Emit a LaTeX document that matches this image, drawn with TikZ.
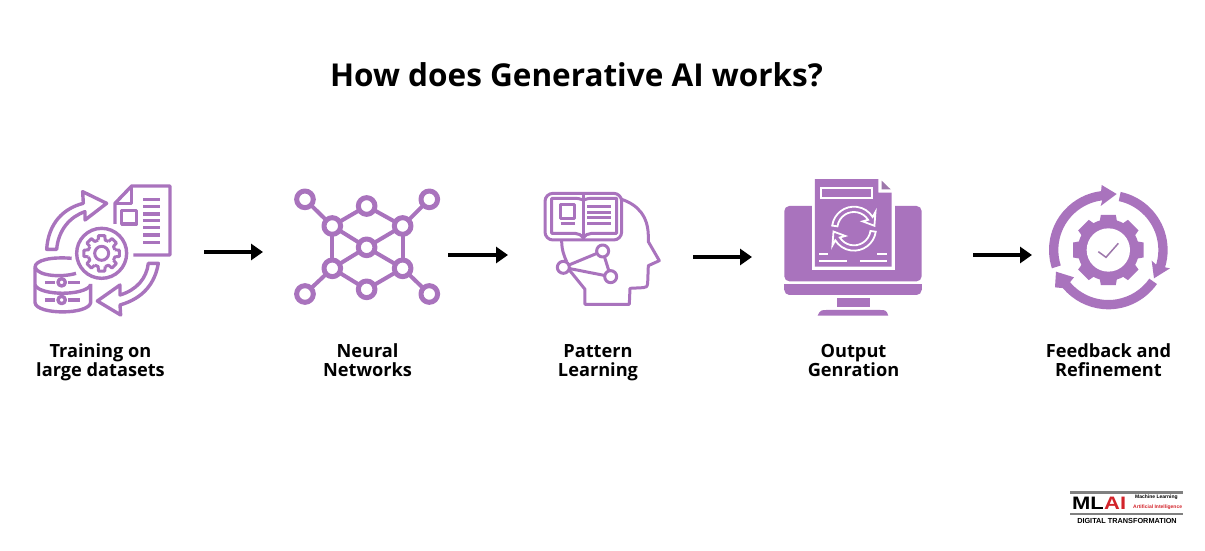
\documentclass[tikz,border=0pt]{standalone}
\usepackage{fontspec}
\setmainfont{Open Sans}
\newfontfamily\logofont{Liberation Sans}
\usetikzlibrary{arrows.meta}
\definecolor{iconpurple}{HTML}{A973BD}
\definecolor{logored}{HTML}{D2232A}
\tikzset{
  iconline/.style={draw=iconpurple,line width=#1,line join=round},
  iconline/.default=3.4pt,
  flowarrow/.style={line width=3.5pt,-{Triangle[length=12pt,width=16pt]}},
  steplabel/.style={align=center,anchor=north,inner sep=0pt,font=\fontsize{18.2}{19}\selectfont\bfseries},
  zoomed/.style={x=0.3333pt,y=-0.3333pt},
  logotext/.style={inner sep=0pt,font=\logofont\fontsize{#1}{#1}\selectfont\bfseries},
}
\begin{document}
\begin{tikzpicture}[x=1pt,y=-1pt]
\useasboundingbox (0,0) rectangle (1205,551);

\node[font=\fontsize{31.5}{36}\selectfont\bfseries] (title) at (576.5,75) {How does Generative AI works?};

% training on datasets
\begin{scope}[xshift=20pt,yshift=-170pt,zoomed]
\draw[iconline] (285,162) -- (285,100) -- (335,48) -- (450,48) -- (450,255) -- (340,255);
\draw[iconline] (335,48) -- (335,100) -- (285,100);
\draw[iconline] (305,122) rectangle (350,162);
\foreach \y in {88,110,132,152,172,195,217}
  \draw[iconline] (370,\y) -- (420,\y);
\draw[iconline] (245,250) circle[radius=75];
\begin{scope}[shift={(245,250)}]
\foreach \a in {0,45,...,315}
  \draw[iconline=3pt] (\a-15:41) -- (\a-10:54) -- (\a+10:54) -- (\a+15:41) arc[start angle=\a+15,end angle=\a+30,radius=41];
\draw[iconline=3pt] (0,0) circle[radius=21];
\end{scope}
\draw[iconline] (155,265) .. controls (95,260) and (45,270) .. (45,292) -- (45,398) .. controls (50,435) and (205,435) .. (212,398) -- (212,342);
\draw[iconline] (45,292) .. controls (55,320) and (130,322) .. (168,310);
\draw[iconline] (45,345) .. controls (60,378) and (195,378) .. (212,345);
\foreach \y in {337,390} {
  \draw[iconline] (125,\y) circle[radius=11];
  \draw[iconline] (75,\y) -- (105,\y);
  \draw[iconline] (145,\y) -- (180,\y);
}
\draw[iconline] (80,238) .. controls (85,160) and (130,115) .. (190,100) -- (188,65) -- (260,100) -- (195,150) -- (195,125) .. controls (150,140) and (115,180) .. (110,238) -- cycle;
\draw[iconline] (415,280) .. controls (405,340) and (370,385) .. (300,405) -- (302,435) -- (232,393) -- (300,345) -- (300,375) .. controls (350,360) and (380,325) .. (385,280) -- cycle;
\end{scope}

% neural networks
\begin{scope}[xshift=20pt,yshift=-170pt,zoomed]
\foreach \n/\x/\y in {a/855/88,b/1040/108,c/1228/88,d/937/168,e/1148/168,f/1040/232,g/937/295,h/1148/295,i/1040/358,j/855/372,k/1228/372}
  \coordinate (net\n) at (\x,\y);
\foreach \s/\t in {a/d,b/d,b/e,c/e,d/g,e/h,d/f,e/f,f/g,f/h,g/i,h/i,g/j,h/k}
  \draw[iconline=4pt] (net\s) -- (net\t);
\foreach \n in {a,b,c,d,e,f,g,h,i,j,k}
  \draw[iconline=5pt,fill=white] (net\n) circle[radius=25];
\end{scope}

% pattern learning
\begin{scope}[xshift=520pt,yshift=-170pt,zoomed]
\draw[iconline=3pt] (305,88) .. controls (355,105) and (385,140) .. (385,200) -- (385,215) -- (418,272) -- (385,287) -- (383,340) .. controls (382,350) and (378,353) .. (370,353) -- (330,355) -- (328,403) -- (195,403) -- (195,358) -- (148,300);
\draw[iconline=3pt] (125,212) .. controls (125,240) and (133,260) .. (140,275);
\draw[iconline=3pt,rounded corners=8pt,fill=white] (75,70) rectangle (305,210);
\draw[iconline=3pt] (190,90) .. controls (180,85) and (170,85) .. (160,85) -- (95,85) -- (95,190) -- (165,190) .. controls (175,190) and (185,195) .. (190,205) .. controls (195,195) and (205,190) .. (215,190) -- (290,190) -- (290,85) -- (220,85) .. controls (210,85) and (200,85) .. (190,90) -- cycle;
\draw[iconline=3pt] (190,70) -- (190,205);
\draw[iconline=3pt] (122,105) rectangle (162,145);
\draw[iconline=3pt] (122,162) -- (165,162);
\foreach \y in {110,128,143,160}
  \draw[iconline=3pt] (202,\y) -- (272,\y);
\coordinate (brainA) at (130,292);
\coordinate (brainB) at (248,243);
\coordinate (brainC) at (272,320);
\draw[iconline=3pt] (brainA) -- (brainB) -- (brainC) -- cycle;
\foreach \n in {A,B,C}
  \draw[iconline=3pt,fill=white] (brain\n) circle[radius=18];
\end{scope}

% output generation
\begin{scope}[xshift=520pt,yshift=-170pt,zoomed]
\fill[iconpurple,rounded corners=5pt] (793,108) rectangle (1205,334);
\fill[iconpurple,rounded corners=5pt] (793,343) rectangle (1205,375);
\fill[iconpurple] (793,343) rectangle (1205,360);
\fill[iconpurple] (950,385) rectangle (1050,410);
\fill[iconpurple] (893,437) .. controls (900,420) and (905,420) .. (920,420) -- (1080,420) .. controls (1095,420) and (1100,420) .. (1105,437) -- cycle;
\fill[white] (875,25) rectangle (1125,300);
\fill[iconpurple] (885,27) -- (1075,27) -- (1075,68) -- (1115,68) -- (1115,290) -- (885,290) -- cycle;
\fill[iconpurple!70!gray] (1085,32) -- (1112,58) -- (1085,58) -- cycle;
\draw[white,line width=2.2pt] (903,54) rectangle (1056,85);
\foreach \x/\y/\u in {898/252/925,898/272/980,1020/272/1100,1072/252/1100}
  \draw[white,line width=2pt] (\x,\y) -- (\u,\y);
\begin{scope}[shift={(1002,176)},x=0.3333pt,y=0.3333pt]
\foreach \r in {0,180}
  \draw[white,line width=1.8pt,fill=iconpurple,rotate=\r] (172:66) arc[start angle=172,end angle=32,radius=66] -- (38:82) -- (8:62) -- (40:34) -- (32:50) arc[start angle=32,end angle=172,radius=50] -- cycle;
\end{scope}
\end{scope}

% feedback and refinement
\begin{scope}[xshift=1030pt,yshift=-170pt,zoomed]
\begin{scope}[shift={(235,240)}]
\fill[iconpurple] (0,0) circle[radius=92];
\foreach \a in {0,45,...,315}
  \fill[iconpurple] (\a-17:89) -- (\a-12:108) -- (\a+12:108) -- (\a+17:89) -- cycle;
\fill[white] (0,0) circle[radius=65];
\end{scope}
\draw[draw=iconpurple!70!gray,line width=1.5pt] (205,245) -- (228,262) -- (265,220);
\begin{scope}[shift={(235,240)},x=0.3333pt,y=0.3333pt]
\fill[iconpurple] (198:178) arc[start angle=198,end angle=97,radius=178] -- (-20,195) -- (25,168) -- (-23,132) -- (97:150) arc[start angle=97,end angle=198,radius=150] -- cycle;
\fill[iconpurple] (78:178) arc[start angle=78,end angle=-17,radius=178] -- (185,-55) -- (137,-85) -- (130,-32) -- (-17:150) arc[start angle=-17,end angle=78,radius=150] -- cycle;
\fill[iconpurple] (-35:178) arc[start angle=-35,end angle=-140,radius=178] -- (-160,-112) -- (-157,-65) -- (-103,-82) -- (-140:150) arc[start angle=-140,end angle=-35,radius=150] -- cycle;
\end{scope}
\end{scope}

% flow
\coordinate (flowAstart) at (204,252);
\coordinate (flowAend) at (263,252);
\coordinate (flowBstart) at (448,255);
\coordinate (flowBend) at (508,255);
\coordinate (flowCstart) at (693,257);
\coordinate (flowCend) at (752,257);
\coordinate (flowDstart) at (973,255);
\coordinate (flowDend) at (1032,255);
\draw[flowarrow] (flowAstart) -- (flowAend);
\draw[flowarrow] (flowBstart) -- (flowBend);
\draw[flowarrow] (flowCstart) -- (flowCend);
\draw[flowarrow] (flowDstart) -- (flowDend);

\node[steplabel] (training) at (100.5,343) {Training on\\large datasets};
\node[steplabel] (neural) at (367.5,343) {Neural\\Networks};
\node[steplabel] (pattern) at (598,344) {Pattern\\Learning};
\node[steplabel] (output) at (853.5,344) {Output\\Genration};
\node[steplabel] (feedback) at (1108.5,343) {Feedback and\\Refinement};

% logo
\fill[gray] (1070,491) rectangle (1183,493.5);
\fill[gray] (1070,513) rectangle (1183,515);
\node[logotext=18,anchor=east] (logoml) at (1104,503) {\scalebox{1.22}[1]{ML}};
\node[logotext=18,anchor=west,text=logored] (logoai) at (1104,503) {\scalebox{1.22}[1]{AI}};
\node[logotext=5,anchor=west] (logomachine) at (1135,497.5) {Machine Learning};
\node[logotext=5,anchor=west,text=logored] (logoartificial) at (1133,507.5) {Artificial Intelligence};
\node[logotext=7.3] (logodigital) at (1127,520.5) {DIGITAL TRANSFORMATION};
\end{tikzpicture}
\end{document}
